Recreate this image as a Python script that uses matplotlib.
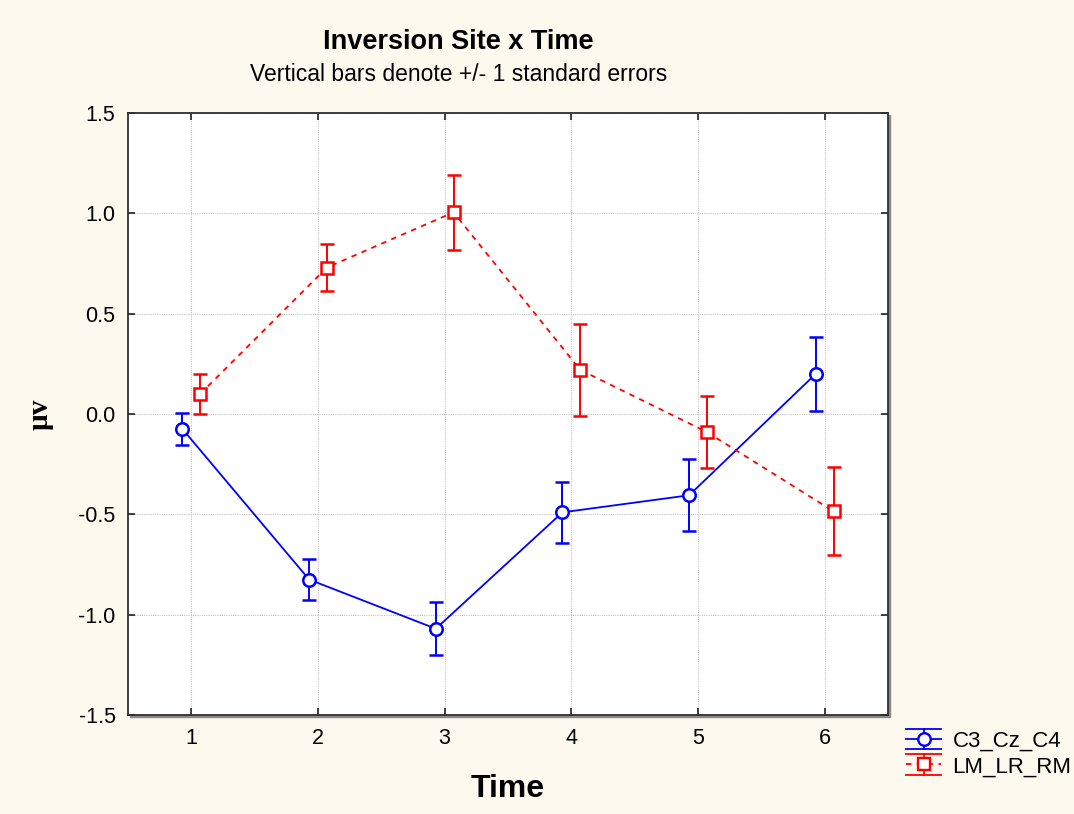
import numpy as np
import matplotlib
matplotlib.use("Agg")
import matplotlib.pyplot as plt
from matplotlib.patches import Rectangle
from matplotlib.lines import Line2D
from matplotlib.legend_handler import HandlerBase

plt.rcParams['font.family'] = ['Liberation Sans', 'DejaVu Sans']

# ---------------- Data: means and standard errors per time point ----------------
time = [1, 2, 3, 4, 5, 6]
c3_mean = [-0.075, -0.825, -1.07, -0.49, -0.405, 0.20]
c3_se = [0.078, 0.10, 0.132, 0.152, 0.18, 0.183]
lm_mean = [0.10, 0.73, 1.005, 0.22, -0.09, -0.485]
lm_se = [0.098, 0.117, 0.187, 0.228, 0.18, 0.22]
series_names = ["C3_Cz_C4", "LM_LR_RM"]

blue, red = "#0000ff", "#ff0000"
dash = (0, (3, 3))


class ErrHandler(HandlerBase):
    """Legend key: line + marker with a full-width capped error bar."""

    def __init__(self, color, ls, marker, ms):
        super().__init__()
        self.color, self.ls, self.marker, self.ms = color, ls, marker, ms

    def create_artists(self, legend, orig_handle, xdescent, ydescent,
                       width, height, fontsize, trans):
        x0, x1 = -xdescent, -xdescent + width
        xm = (x0 + x1) / 2
        yc = -ydescent + height / 2
        h = 7.5
        kw = dict(color=self.color, lw=1.3, transform=trans)
        arts = [
            Line2D([x0, x1], [yc, yc], ls=self.ls, **kw),
            Line2D([x0, x1], [yc + h, yc + h], **kw),
            Line2D([x0, x1], [yc - h, yc - h], **kw),
            Line2D([xm, xm], [yc - h, yc + h], **kw),
            Line2D([xm], [yc], ls="none", marker=self.marker, ms=self.ms,
                   mfc="white", mec=self.color, mew=1.7, transform=trans),
        ]
        return arts


bg = "#fdf9ee"
W, H = 1074, 814
fig = plt.figure(figsize=(W / 100, H / 100), dpi=100, facecolor=bg)
pos = [0.1192, 0.1216, 0.7076, 0.7396]
ax = fig.add_axes(pos)
ax.set_facecolor("white")

# drop shadow behind the plot frame (right and bottom edges)
fig.patches.append(Rectangle((pos[0] + 2 / W, pos[1] - 2 / H), pos[2], pos[3],
                             transform=fig.transFigure, color="#8a8a8a", zorder=-5))

x = np.array(time, dtype=float)
off = 0.07  # small horizontal shift so the two series don't overlap

eb1 = ax.errorbar(x - off, c3_mean, yerr=c3_se, color=blue, lw=1.3,
                  marker="o", ms=9, mfc="white", mec=blue, mew=1.8,
                  elinewidth=1.4, capsize=4.8, capthick=1.4, label=series_names[0], zorder=3)
eb2 = ax.errorbar(x + off, lm_mean, yerr=lm_se, color=red, lw=1.3,
                  ls=dash, marker="s", ms=8, mfc="white", mec=red, mew=1.8,
                  elinewidth=1.4, capsize=4.8, capthick=1.4, label=series_names[1], zorder=3)

ax.set_xlim(0.5, 6.5)
ax.set_ylim(-1.5, 1.5)
ax.set_xticks(time)
yt = np.arange(-1.5, 1.51, 0.5)
ax.set_yticks(yt)
ax.set_yticklabels([f"{v:.1f}" for v in yt])
ax.grid(True, color="#c4c4c4", ls=(0, (1, 1)), lw=0.8, zorder=0)
ax.tick_params(direction="in", length=5, width=1.2, top=True, right=True,
               labelsize=15.5, pad=9, color="#202020")
for s in ax.spines.values():
    s.set_color("#303030")
    s.set_linewidth(1.3)

ax.set_xlabel("Time", fontsize=23, fontweight="bold", labelpad=18)
ax.set_ylabel("µv", fontsize=21, fontweight="bold", family="Liberation Serif", labelpad=18)

fig.text(0.427, 0.948, "Inversion Site x Time", ha="center", va="center",
         fontsize=19.5, fontweight="bold")
fig.text(0.427, 0.908, "Vertical bars denote +/- 1 standard errors", ha="center",
         va="center", fontsize=16.5)

fig.legend(handles=[eb1, eb2], loc="center left", bbox_to_anchor=(0.844, 0.0737),
           frameon=False, fontsize=16, handlelength=1.57, handletextpad=0.5,
           labelspacing=0.2, borderaxespad=0, borderpad=0,
           handler_map={eb1: ErrHandler(blue, "-", "o", 9),
                        eb2: ErrHandler(red, dash, "s", 8.5)})

fig.savefig("out.png", dpi=100, facecolor=bg)
